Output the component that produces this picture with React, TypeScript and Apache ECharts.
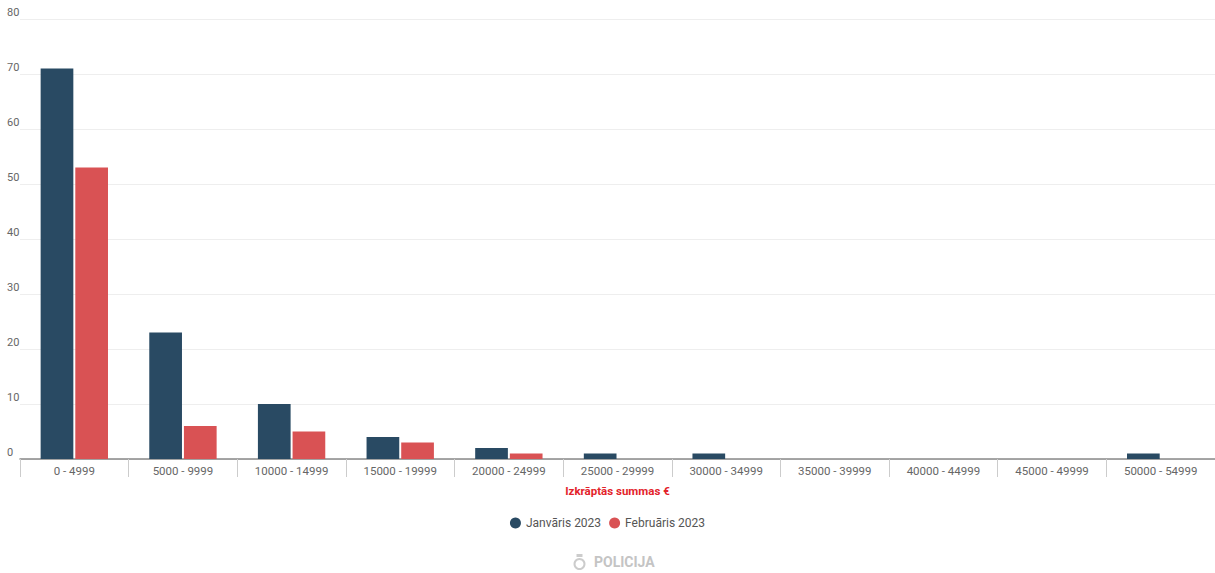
import React, { useEffect, useRef } from "react";
import * as echarts from "echarts";

const categories = [
  "0 - 4999",
  "5000 - 9999",
  "10000 - 14999",
  "15000 - 19999",
  "20000 - 24999",
  "25000 - 29999",
  "30000 - 34999",
  "35000 - 39999",
  "40000 - 44999",
  "45000 - 49999",
  "50000 - 54999",
];
const janValues = [71, 23, 10, 4, 2, 1, 1, 0, 0, 0, 1];
const febValues = [53, 6, 5, 3, 1, 0, 0, 0, 0, 0, 0];
const seriesNames = ["Janvāris 2023", "Februāris 2023"];
const xAxisTitle = "Izkrāptās summas €";
const logoText = "POLICIJA";

export default function App() {
  const ref = useRef<HTMLDivElement>(null);
  useEffect(() => {
    if (!ref.current) return;
    const chart = echarts.init(ref.current, null, { renderer: "svg" });
    const font = "Roboto, 'Noto Sans', sans-serif";
    chart.setOption({
      animation: false,
      textStyle: { fontFamily: font },
      grid: { left: 20, right: 0, top: 19, bottom: 114, containLabel: false },
      legend: {
        top: 512,
        left: "center",
        icon: "circle",
        itemWidth: 11,
        itemHeight: 11,
        itemGap: 8,
        textStyle: { fontSize: 12, color: "#555", fontFamily: font },
        data: seriesNames,
      },
      xAxis: {
        type: "category",
        data: categories,
        name: xAxisTitle,
        nameLocation: "middle",
        nameGap: 26,
        nameTextStyle: { color: "#e3242b", fontWeight: "bold", fontSize: 11.5, fontFamily: font },
        axisLine: { lineStyle: { color: "#888", width: 1.5 } },
        axisTick: { show: true, length: 18, lineStyle: { color: "#ccc" } },
        axisLabel: { color: "#666", fontSize: 11.5, margin: 6, interval: 0 },
      },
      yAxis: {
        type: "value",
        min: 0,
        max: 80,
        interval: 10,
        axisLine: { show: false },
        axisTick: { show: false },
        splitLine: { lineStyle: { color: "#eeeeee" } },
        axisLabel: {
          color: "#666",
          fontSize: 11,
          align: "left",
          verticalAlign: "bottom",
          margin: 13,
          padding: [0, 0, 1, 0],
        },
      },
      series: [
        {
          name: seriesNames[0],
          type: "bar",
          data: janValues,
          barGap: "6%",
          barCategoryGap: "38%",
          itemStyle: { color: "#294a63" },
        },
        {
          name: seriesNames[1],
          type: "bar",
          data: febValues,
          itemStyle: { color: "#d95254" },
        },
      ],
      graphic: [
        {
          type: "group",
          left: 572,
          top: 554,
          children: [
            { type: "circle", shape: { cx: 6, cy: 10, r: 5 }, style: { fill: "none", stroke: "#ccc", lineWidth: 2 } },
            { type: "rect", shape: { x: 3, y: 0, width: 6, height: 3 }, style: { fill: "#ccc" } },
          ],
        },
        {
          type: "text",
          left: 594,
          top: 555,
          style: { text: logoText, fill: "#c4c4c4", font: "bold 14px " + font },
        },
      ],
    });
    return () => chart.dispose();
  }, []);
  return (
    <div
      ref={ref}
      style={{ position: "fixed", left: 0, top: 0, width: 1215, height: 573, background: "#fff" }}
    />
  );
}
